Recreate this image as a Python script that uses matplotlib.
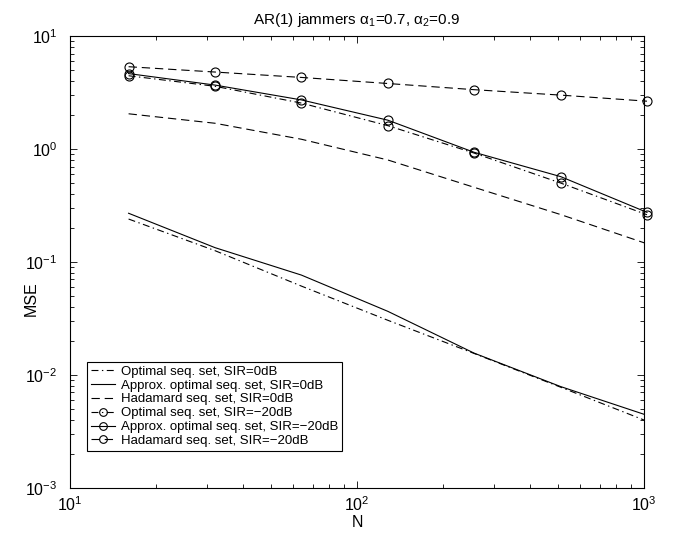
#!/usr/bin/env python
# -*- coding: utf-8 -*-

import matplotlib
matplotlib.use("Agg")
import matplotlib.pyplot as plt
import matplotlib.ticker as ticker

# block lengths
n_values = [16, 32, 64, 128, 256, 512, 1024]

# SIR = 0dB
opt_0db = [0.240, 0.126, 0.0612, 0.0305, 0.0155, 0.0078, 0.0039]
approx_0db = [0.270, 0.134, 0.0766, 0.0366, 0.0156, 0.0079, 0.0044]
hadamard_0db = [2.05, 1.69, 1.22, 0.80, 0.458, 0.263, 0.145]

# SIR = -20dB
opt_m20db = [4.45, 3.59, 2.55, 1.61, 0.92, 0.50, 0.262]
approx_m20db = [4.65, 3.68, 2.72, 1.80, 0.935, 0.57, 0.275]
hadamard_m20db = [5.35, 4.80, 4.30, 3.80, 3.35, 3.00, 2.65]

labels = ["Optimal seq. set, SIR=0dB",
          "Approx. optimal seq. set, SIR=0dB",
          "Hadamard seq. set, SIR=0dB",
          "Optimal seq. set, SIR=\u221220dB",
          "Approx. optimal seq. set, SIR=\u221220dB",
          "Hadamard seq. set, SIR=\u221220dB"]

DASHDOT = (0, (5, 2.5, 1, 2.5))
DASHED = (0, (6, 3.5))


def setup_style():
    plt.rcParams['font.family'] = ['Liberation Sans', 'DejaVu Sans']
    plt.rcParams['mathtext.fontset'] = 'custom'
    plt.rcParams['mathtext.rm'] = 'Liberation Sans'
    plt.rcParams['mathtext.it'] = 'Liberation Sans:italic'
    plt.rcParams['lines.scale_dashes'] = False


def mse_plot(ax):
    """
    Draw MSE vs N for the six sequence sets
    :param ax: matplotlib axis
    :return: None
    """
    lw = 0.8
    mk = dict(marker='o', ms=6.5, mfc='none', mec='black', mew=0.8, clip_on=False)
    ax.loglog(n_values, opt_0db, color='black', lw=lw, linestyle=DASHDOT, label=labels[0])
    ax.loglog(n_values, approx_0db, color='black', lw=lw, linestyle='-', label=labels[1])
    ax.loglog(n_values, hadamard_0db, color='black', lw=lw, linestyle=DASHED, label=labels[2])
    ax.loglog(n_values, opt_m20db, color='black', lw=lw, linestyle=DASHDOT, label=labels[3], **mk)
    ax.loglog(n_values, approx_m20db, color='black', lw=lw, linestyle='-', label=labels[4], **mk)
    ax.loglog(n_values, hadamard_m20db, color='black', lw=lw, linestyle=DASHED, label=labels[5], **mk)

    ax.set_xlim(10, 1000)
    ax.set_ylim(1e-3, 10)
    ax.xaxis.set_major_locator(ticker.LogLocator(base=10, numticks=10))
    ax.yaxis.set_major_locator(ticker.LogLocator(base=10, numticks=10))
    ax.xaxis.set_minor_locator(ticker.LogLocator(base=10, subs=range(2, 10), numticks=20))
    ax.yaxis.set_minor_locator(ticker.LogLocator(base=10, subs=range(2, 10), numticks=20))
    ax.xaxis.set_minor_formatter(ticker.NullFormatter())
    ax.yaxis.set_minor_formatter(ticker.NullFormatter())
    ax.tick_params(which='both', direction='in', top=True, right=True, width=0.6)
    ax.tick_params(which='major', length=5, labelsize=11.5)
    ax.tick_params(which='minor', length=3)
    ax.tick_params(axis='x', which='major', pad=5)
    ax.tick_params(axis='y', which='major', pad=9)
    for sp in ax.spines.values():
        sp.set_linewidth(0.8)

    ax.set_xlabel("N", fontsize=11.5, labelpad=1)
    ax.set_ylabel("MSE", fontsize=11.5)
    ax.yaxis.set_label_coords(-0.055, 0.42)
    ax.set_title(u"AR(1) jammers \u03b1$_1$=0.7, \u03b1$_2$=0.9", fontsize=11, pad=9)

    leg = ax.legend(loc='lower left', bbox_to_anchor=(0.03, 0.082), borderaxespad=0,
                    fontsize=9.5, fancybox=False, framealpha=1, edgecolor='black',
                    handlelength=1.8, handletextpad=0.45, labelspacing=0.12,
                    borderpad=0.3, markerscale=0.85)
    leg.get_frame().set_linewidth(0.8)


def main():
    setup_style()
    fig = plt.figure(figsize=(6.79, 5.36), dpi=100)
    ax = fig.add_axes([0.1031, 0.0896, 0.8454, 0.8432])
    mse_plot(ax)
    fig.savefig("out.png", dpi=100)


if __name__ == "__main__":
    main()
